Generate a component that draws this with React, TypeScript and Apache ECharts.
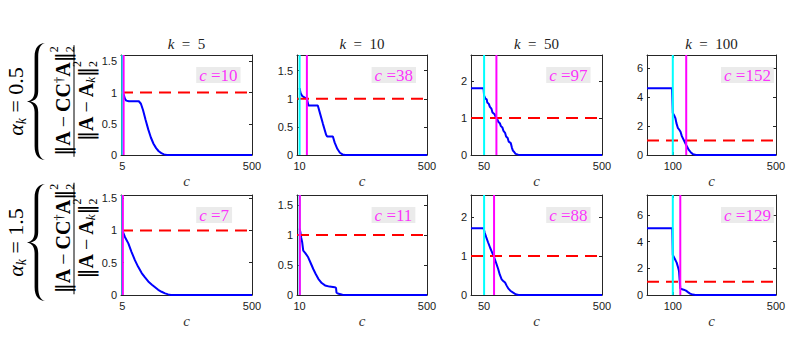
import React, { useEffect, useRef } from 'react';
import * as echarts from 'echarts';

// ---------------- data ----------------
const kValues = [5, 10, 50, 100];
const alphaLabels = ['0.5', '1.5'];
const cTop = [10, 38, 97, 152];
const cBottom = [7, 11, 88, 129];
const yMaxTop = [1.6, 1.78, 2.7, 6.9];
const yMaxBottom = [1.55, 1.67, 2.56, 7.5];
const yTicks = [
  [0, 0.5, 1, 1.5],
  [0, 0.5, 1, 1.5],
  [0, 1, 2],
  [0, 2, 4, 6],
];
const xMaxValue = 500;
const thresholdValue = 1;

const errK5A05 = [[5, 1.0], [10, 0.97], [15, 0.9], [20, 0.87], [30, 0.86], [68, 0.86], [76, 0.82], [84, 0.72], [94, 0.56], [104, 0.41], [114, 0.28], [124, 0.18], [134, 0.11], [144, 0.06], [154, 0.03], [164, 0.01], [175, 0], [500, 0]];
const errK10A05 = [[10, 1.19], [14, 1.1], [20, 1.05], [30, 1.02], [38, 1.0], [44, 0.88], [80, 0.88], [88, 0.75], [100, 0.55], [112, 0.36], [116, 0.33], [138, 0.33], [145, 0.22], [155, 0.11], [165, 0.04], [175, 0.01], [185, 0], [500, 0]];
const errK50A05 = [[0, 1.8], [48, 1.8], [50, 1.6], [55, 1.52], [60, 1.5], [62, 1.42], [68, 1.38], [72, 1.3], [78, 1.25], [82, 1.15], [90, 1.1], [95, 1.02], [100, 0.97], [104, 0.9], [110, 0.86], [114, 0.78], [120, 0.74], [124, 0.65], [130, 0.6], [134, 0.5], [140, 0.46], [144, 0.36], [152, 0.32], [156, 0.2], [160, 0.12], [165, 0.08], [170, 0.03], [180, 0.01], [190, 0], [500, 0]];
const errK100A05 = [[0, 4.6], [97, 4.6], [100, 2.9], [105, 2.75], [110, 2.55], [114, 2.2], [120, 1.85], [125, 1.75], [130, 1.6], [135, 1.3], [142, 1.05], [150, 0.75], [156, 0.55], [162, 0.35], [170, 0.18], [178, 0.06], [190, 0], [500, 0]];
const errK5A15 = [[5, 1.0], [15, 0.9], [28, 0.8], [40, 0.67], [53, 0.54], [65, 0.44], [79, 0.34], [90, 0.28], [104, 0.21], [118, 0.16], [130, 0.12], [142, 0.08], [155, 0.05], [168, 0.025], [180, 0.01], [190, 0], [500, 0]];
const errK10A15 = [[10, 1.11], [13, 1.05], [16, 0.96], [20, 0.88], [24, 0.74], [32, 0.7], [43, 0.63], [53, 0.53], [63, 0.43], [72, 0.35], [82, 0.27], [95, 0.2], [108, 0.16], [125, 0.14], [145, 0.13], [150, 0.12], [152, 0.04], [160, 0.02], [175, 0.005], [185, 0], [500, 0]];
const errK50A15 = [[0, 1.71], [48, 1.71], [52, 1.6], [58, 1.48], [65, 1.35], [73, 1.21], [80, 1.1], [88, 0.97], [96, 0.82], [104, 0.66], [110, 0.52], [117, 0.4], [123, 0.36], [130, 0.32], [136, 0.24], [142, 0.17], [150, 0.11], [161, 0.06], [170, 0.02], [182, 0], [500, 0]];
const errK100A15 = [[0, 5.0], [98, 5.0], [100, 3.0], [108, 2.7], [115, 2.43], [120, 2.1], [124, 1.8], [127, 1.0], [129, 0.5], [133, 0.45], [142, 0.4], [151, 0.33], [160, 0.2], [167, 0.1], [177, 0.03], [188, 0], [500, 0]];

const curvesTop = [errK5A05, errK10A05, errK50A05, errK100A05];
const curvesBottom = [errK5A15, errK10A15, errK50A15, errK100A15];

// ---------------- layout / style ----------------
const W = 810;
const H = 342;
const colLefts = [121, 297, 471, 647];
const colWidths = [131, 130, 131, 129];
const rowTops = [55, 195];
const plotH = 100;
const SERIF = '"Liberation Serif", "DejaVu Serif", serif';
const SANS = '"Liberation Sans", Arial, Helvetica, sans-serif';
const AXIS_COLOR = '#262626';

const BRACE_D =
  'M18 0 C12 0.5 7.6 4 7.6 14 L7.6 48 C7.6 54.5 4.5 57.8 0 58.5 C4.5 59.2 7.6 62.5 7.6 69 L7.6 103 C7.6 113 12 116.5 18 117 C13.5 115.8 11.2 111.5 11.2 103 L11.2 69 C11.2 62.5 8.5 59.6 3.5 58.5 C8.5 57.4 11.2 54.5 11.2 48 L11.2 14 C11.2 5.5 13.5 1.2 18 0 Z';
echarts.graphic.registerShape('brace', echarts.graphic.extendPath(BRACE_D, {}) as any);

type Part = { t: string; font: string; dy: number };
type Seg = Part | { stack: Part[] };

let measureCtx: CanvasRenderingContext2D | null = null;
function measure(t: string, font: string): number {
  if (!measureCtx) measureCtx = document.createElement('canvas').getContext('2d');
  if (!measureCtx) return t.length * 8;
  measureCtx.font = font;
  return measureCtx.measureText(t).width;
}

function textEl(t: string, font: string, x: number, y: number, fill = '#000') {
  return {
    type: 'text',
    x,
    y,
    silent: true,
    style: {
      text: t,
      font,
      fill,
      align: 'left',
      verticalAlign: 'middle',
      textAlign: 'left',
      textVerticalAlign: 'middle',
    },
  };
}

function seqElements(segs: Seg[], cx: number, cy: number, fill = '#000') {
  const widths = segs.map((s: any) =>
    s.stack ? Math.max(...s.stack.map((p: Part) => measure(p.t, p.font))) : measure(s.t, s.font)
  );
  const total = widths.reduce((a, b) => a + b, 0);
  let x = cx - total / 2;
  const out: any[] = [];
  segs.forEach((s: any, i) => {
    const parts: Part[] = s.stack ? s.stack : [s];
    parts.forEach((p) => out.push(textEl(p.t, p.font, x, cy + p.dy, fill)));
    x += widths[i];
  });
  return { els: out, total };
}

function leftLabel(cy: number, fracCy: number, alpha: string) {
  const F = 20;
  const n = `${F}px ${SERIF}`;
  const bars = `${F}px "DejaVu Serif", serif`;
  const b = `bold ${F}px ${SERIF}`;
  const s = `12px ${SERIF}`;
  const numer = seqElements(
    [
      { t: '‖', font: bars, dy: 0 },
      { t: 'A', font: b, dy: 0 },
      { t: '\u2009−\u2009', font: n, dy: 0 },
      { t: 'CC', font: b, dy: 0 },
      { t: '†', font: `13px ${SERIF}`, dy: -5 },
      { t: 'A', font: b, dy: 0 },
      { t: '‖', font: bars, dy: 0 },
      { stack: [{ t: '2', font: s, dy: -9 }, { t: '2', font: s, dy: 7 }] },
    ],
    0,
    -11
  );
  const denom = seqElements(
    [
      { t: '‖', font: bars, dy: 0 },
      { t: 'A', font: b, dy: 0 },
      { t: '\u2009−\u2009', font: n, dy: 0 },
      { t: 'A', font: b, dy: 0 },
      { t: 'k', font: `italic 13px ${SERIF}`, dy: 5 },
      { t: '‖', font: bars, dy: 0 },
      { stack: [{ t: '2', font: s, dy: -9 }, { t: '2', font: s, dy: 7 }] },
    ],
    0,
    11.5
  );
  const alphaSeq = seqElements(
    [
      { t: 'α', font: `italic 22px ${SERIF}`, dy: 0 },
      { t: 'k', font: `italic 14px ${SERIF}`, dy: 6 },
      { t: ` = ${alpha}`, font: `22px ${SERIF}`, dy: 0 },
    ],
    0,
    0
  );
  const half = Math.max(numer.total, denom.total) / 2 + 1;
  return [
    {
      type: 'group',
      x: 15,
      y: cy,
      rotation: Math.PI / 2,
      children: alphaSeq.els,
    },
    {
      type: 'brace',
      x: 27,
      y: cy - 58.5,
      silent: true,
      style: { fill: '#000' },
    },
    {
      type: 'group',
      x: 74,
      y: fracCy,
      rotation: Math.PI / 2,
      children: [
        ...numer.els,
        {
          type: 'line',
          silent: true,
          shape: { x1: -half, y1: 0, x2: half, y2: 0 },
          style: { stroke: '#000', lineWidth: 1 },
        },
        ...denom.els,
      ],
    },
  ];
}

function buildOption() {
  const grid: any[] = [];
  const xAxis: any[] = [];
  const yAxis: any[] = [];
  const series: any[] = [];
  const graphic: any[] = [];

  for (let r = 0; r < 2; r++) {
    for (let col = 0; col < 4; col++) {
      const i = r * 4 + col;
      const k = kValues[col];
      const c = r === 0 ? cTop[col] : cBottom[col];
      const ymax = r === 0 ? yMaxTop[col] : yMaxBottom[col];
      const curve = r === 0 ? curvesTop[col] : curvesBottom[col];
      const ticks = yTicks[col];
      grid.push({ left: colLefts[col], top: rowTops[r], width: colWidths[col], height: plotH, containLabel: false });
      const lineStyle = { color: AXIS_COLOR, width: 1 };
      const xTicks = [k, xMaxValue];
      xAxis.push({
        gridIndex: i,
        type: 'value',
        min: 0,
        max: xMaxValue,
        position: 'bottom',
        axisLine: { show: true, onZero: false, lineStyle },
        axisTick: { show: true, inside: true, length: 3, customValues: xTicks, lineStyle },
        axisLabel: { show: true, customValues: xTicks, margin: 5, fontSize: 11, fontFamily: SANS, color: '#1a1a1a' },
        splitLine: { show: false },
        name: 'c',
        nameLocation: 'middle',
        nameGap: 18,
        nameTextStyle: { fontStyle: 'italic', fontFamily: SERIF, fontSize: 15, color: '#333' },
      });
      xAxis.push({
        gridIndex: i,
        type: 'value',
        min: 0,
        max: xMaxValue,
        position: 'top',
        axisLine: { show: true, onZero: false, lineStyle },
        axisTick: { show: true, inside: true, length: 3, customValues: xTicks, lineStyle },
        axisLabel: { show: false },
        splitLine: { show: false },
      });
      yAxis.push({
        gridIndex: i,
        type: 'value',
        min: 0,
        max: ymax,
        position: 'left',
        axisLine: { show: true, onZero: false, lineStyle },
        axisTick: { show: true, inside: true, length: 3, customValues: ticks, lineStyle },
        axisLabel: { show: true, customValues: ticks, margin: 4, fontSize: 11, fontFamily: SANS, color: '#1a1a1a' },
        splitLine: { show: false },
      });
      yAxis.push({
        gridIndex: i,
        type: 'value',
        min: 0,
        max: ymax,
        position: 'right',
        axisLine: { show: true, onZero: false, lineStyle },
        axisTick: { show: true, inside: true, length: 3, customValues: ticks, lineStyle },
        axisLabel: { show: false },
        splitLine: { show: false },
      });
      const base = { xAxisIndex: 2 * i, yAxisIndex: 2 * i, silent: true, symbol: 'none', showSymbol: false };
      series.push({ ...base, type: 'line', z: 2, data: curve, lineStyle: { color: '#0000ff', width: 2 } });
      series.push({
        ...base,
        type: 'line',
        z: 3,
        data: [[0, thresholdValue], [xMaxValue, thresholdValue]],
        lineStyle: { color: '#ff0000', width: 2, type: [12, 7], cap: 'butt' },
      });
      series.push({ ...base, type: 'line', z: 4, data: [[k, 0], [k, ymax]], lineStyle: { color: '#00ffff', width: 2 } });
      series.push({ ...base, type: 'line', z: 5, data: [[c, 0], [c, ymax]], lineStyle: { color: '#ff00ff', width: 2 } });
      series.push({
        xAxisIndex: 2 * i,
        yAxisIndex: 2 * i,
        type: 'scatter',
        silent: true,
        z: 6,
        symbol: 'circle',
        symbolSize: 1,
        itemStyle: { color: 'rgba(0,0,0,0)' },
        data: [[285, 0.8 * ymax]],
        label: {
          show: true,
          position: 'right',
          distance: 0,
          formatter: `{i|c} {n|=${c}}`,
          backgroundColor: '#e6e6e6',
          padding: [1, 3, 0, 3],
          color: '#ff00ff',
          fontFamily: SERIF,
          fontSize: 17,
          lineHeight: 15,
          rich: {
            i: { fontStyle: 'italic', fontFamily: SERIF, fontSize: 17, color: '#ff00ff', lineHeight: 15 },
            n: { fontFamily: SERIF, fontSize: 17, color: '#ff00ff', lineHeight: 15 },
          },
        },
      });

      if (r === 0) {
        const cx = colLefts[col] + colWidths[col] / 2;
        const title = seqElements(
          [
            { t: 'k', font: `italic 15px ${SERIF}`, dy: 0 },
            { t: `\u2002=\u2002${k}`, font: `15px ${SERIF}`, dy: 0 },
          ],
          cx,
          44,
          '#222'
        );
        graphic.push(...title.els);
      }
    }
  }

  graphic.push(...leftLabel(101.5, 101, alphaLabels[0]));
  graphic.push(...leftLabel(242.5, 238.5, alphaLabels[1]));

  return {
    animation: false,
    backgroundColor: '#ffffff',
    grid,
    xAxis,
    yAxis,
    series,
    graphic: { elements: graphic },
  };
}

export default function App() {
  const ref = useRef<HTMLDivElement>(null);
  useEffect(() => {
    if (!ref.current) return;
    const chart = echarts.init(ref.current, undefined, { renderer: 'svg' });
    chart.setOption(buildOption() as any);
    return () => chart.dispose();
  }, []);
  return (
    <div
      ref={ref}
      style={{ position: 'fixed', left: 0, top: 0, width: W, height: H, background: '#fff' }}
    />
  );
}
